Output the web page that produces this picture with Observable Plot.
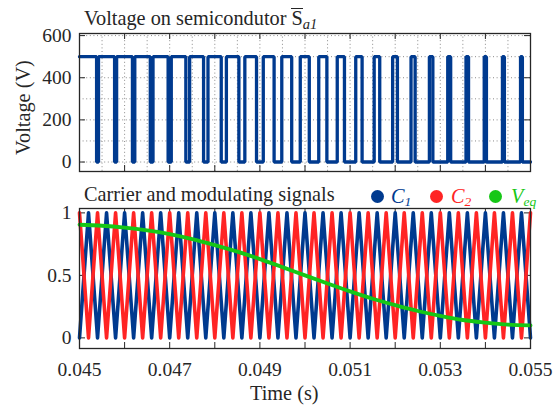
<!DOCTYPE html>
<html><head><meta charset="utf-8">
<script src="https://cdn.jsdelivr.net/npm/d3@7"></script>
<script src="https://cdn.jsdelivr.net/npm/@observablehq/plot@0.6"></script>
<style>
body{margin:0;background:#fff;}
#wrap{position:relative;width:553px;height:406px;font-family:"Liberation Serif","Times New Roman",Times,serif;color:#262626;overflow:hidden;}
#wrap svg{position:absolute;left:0;}
#wrap svg text{font-family:"Liberation Serif","Times New Roman",Times,serif;}
.t{position:absolute;white-space:nowrap;font-size:20.3px;line-height:1;}
.dot{position:absolute;width:13px;height:13px;border-radius:50%;}
</style></head><body><div id="wrap"></div>
<script>
// ---- axis ticks ----
const xTicks = [0.045,0.046,0.047,0.048,0.049,0.050,0.051,0.052,0.053,0.054,0.055];
const xLabelTicks = [0.045,0.047,0.049,0.051,0.053,0.055];
const xGrid = [0.045,0.0455,0.046,0.0465,0.047,0.0475,0.048,0.0485,0.049,0.0495,0.050,0.0505,0.051,0.0515,0.052,0.0525,0.053,0.0535,0.054,0.0545,0.055];
const vTicks = [0,200,400,600];
const vGrid = [0,100,200,300,400,500,600];
const sTicks = [0,0.5,1];

// ---- top panel: switch voltage (low-pulse edges, s) ----
const highLevel = 500, lowLevel = 0;
const lowStart = [0.045379,0.045778,0.046174,0.04657,0.046965,0.047358,0.047751,0.048143,0.048534,0.048925,0.049315,0.049705,0.050095,0.050485,0.050875,0.051266,0.051657,0.052049,0.052442,0.052835,0.05323,0.053626,0.054023,0.054421,0.05482];
const lowEnd   = [0.045421,0.045823,0.046226,0.04663,0.047035,0.047442,0.047849,0.048257,0.048666,0.049075,0.049485,0.049895,0.050305,0.050715,0.051125,0.051534,0.051943,0.052351,0.052758,0.053165,0.05357,0.053974,0.054378,0.054779,0.055];

// ---- bottom panel: carriers (vertex times) and modulating signal ----
const carrierTimes = [0.045,0.0452,0.0454,0.0456,0.0458,0.046,0.0462,0.0464,0.0466,0.0468,0.047,0.0472,0.0474,0.0476,0.0478,0.048,0.0482,0.0484,0.0486,0.0488,0.049,0.0492,0.0494,0.0496,0.0498,0.05,0.0502,0.0504,0.0506,0.0508,0.051,0.0512,0.0514,0.0516,0.0518,0.052,0.0522,0.0524,0.0526,0.0528,0.053,0.0532,0.0534,0.0536,0.0538,0.054,0.0542,0.0544,0.0546,0.0548,0.055];
const c1Values = [0,1,0,1,0,1,0,1,0,1,0,1,0,1,0,1,0,1,0,1,0,1,0,1,0,1,0,1,0,1,0,1,0,1,0,1,0,1,0,1,0,1,0,1,0,1,0,1,0,1,0];
const c2Values = [1,0,1,0,1,0,1,0,1,0,1,0,1,0,1,0,1,0,1,0,1,0,1,0,1,0,1,0,1,0,1,0,1,0,1,0,1,0,1,0,1,0,1,0,1,0,1,0,1,0,1];
const veqTimes = [0.045,0.0455,0.046,0.0465,0.047,0.0475,0.048,0.0485,0.049,0.0495,0.050,0.0505,0.051,0.0515,0.052,0.0525,0.053,0.0535,0.054,0.0545,0.055];
const veqValues = [0.905,0.897,0.882,0.86,0.83,0.79,0.742,0.69,0.63,0.566,0.5,0.435,0.372,0.313,0.262,0.215,0.176,0.143,0.122,0.106,0.1];

const blue = "#003a8f", red = "#ff2424", green = "#16c716", ink = "#262626";

// build step line
const sw = [{t:0.045, v:highLevel}];
lowStart.forEach((s,i) => {
  const e = lowEnd[i];
  sw.push({t:s, v:highLevel},{t:s, v:lowLevel},{t:e, v:lowLevel});
  if (e < 0.055) sw.push({t:e, v:highLevel});
});
const c1 = carrierTimes.map((t,i)=>({t, v:c1Values[i]}));
const c2 = carrierTimes.map((t,i)=>({t, v:c2Values[i]}));
const veq = veqTimes.map((t,i)=>({t, v:veqValues[i]}));

const W = 553, mL = 79, mR = 23, innerW = W - mL - mR;
const FONT = '"Liberation Serif", "Times New Roman", Times, serif';
const style = {fontFamily: FONT, fontSize:"19.5px", color:ink, background:"transparent", overflow:"visible"};
const TK = 6;

// top
const topH = 180, topMT = 33, topMB = 9, topInner = topH - topMT - topMB;
const topPlot = Plot.plot({
  width: W, height: topH, marginTop: topMT, marginBottom: topMB, marginLeft: mL, marginRight: mR,
  style,
  x: {domain:[0.045,0.055]},
  y: {domain:[-45,610]},
  marks: [
    Plot.gridX(xGrid, {stroke:"#8a8a8a", strokeOpacity:1, strokeDasharray:"1,2.6"}),
    Plot.gridY(vGrid, {stroke:"#8a8a8a", strokeOpacity:1, strokeDasharray:"1,2.6"}),
    Plot.axisX({ticks: [], label:null, tickSize:0}),
    Plot.axisY({ticks: vTicks, label:null, tickSize:0, tickPadding:8}),
    Plot.ruleX(xTicks, {stroke:ink, insetTop: topInner - TK}),
    Plot.ruleX(xTicks, {stroke:ink, insetBottom: topInner - TK}),
    Plot.ruleY(vTicks, {stroke:ink, insetRight: innerW - TK}),
    Plot.ruleY(vTicks, {stroke:ink, insetLeft: innerW - TK}),
    Plot.line(sw, {x:"t", y:"v", stroke:blue, strokeWidth:3.3, strokeLinejoin:"miter", curve:"linear"}),
    Plot.frame({stroke:ink, strokeWidth:1.3})
  ]
});
topPlot.style.top = "0px";

// bottom
const botTop = 180, botH = 226, botMT = 28, botMB = 58, botInner = botH - botMT - botMB;
const botPlot = Plot.plot({
  width: W, height: botH, marginTop: botMT, marginBottom: botMB, marginLeft: mL, marginRight: mR,
  style,
  x: {domain:[0.045,0.055]},
  y: {domain:[-0.085,1.035]},
  marks: [
    Plot.axisX({ticks: xLabelTicks, tickFormat: d3.format(".3f"), label:null, tickSize:0, tickPadding:14}),
    Plot.axisY({ticks: sTicks, tickFormat: d => String(d), label:null, tickSize:0, tickPadding:8}),
    Plot.ruleX(xTicks, {stroke:ink, insetTop: botInner - TK}),
    Plot.ruleX(xTicks, {stroke:ink, insetBottom: botInner - TK}),
    Plot.ruleY(sTicks, {stroke:ink, insetRight: innerW - TK}),
    Plot.ruleY(sTicks, {stroke:ink, insetLeft: innerW - TK}),
    Plot.line(c1, {x:"t", y:"v", stroke:blue, strokeWidth:3.6}),
    Plot.line(c2, {x:"t", y:"v", stroke:red, strokeWidth:3.6}),
    Plot.line(veq, {x:"t", y:"v", stroke:green, strokeWidth:3.8, curve:"monotone-x"}),
    Plot.frame({stroke:ink, strokeWidth:1.3})
  ]
});
botPlot.style.top = botTop + "px";

const wrap = document.getElementById("wrap");
wrap.appendChild(topPlot);
wrap.appendChild(botPlot);

function addText(html, left, topPx, extra) {
  const d = document.createElement("div");
  d.className = "t";
  d.innerHTML = html;
  d.style.left = left + "px";
  d.style.top = topPx + "px";
  if (extra) Object.assign(d.style, extra);
  wrap.appendChild(d);
  return d;
}
function addDot(color, cx, cy) {
  const d = document.createElement("div");
  d.className = "dot";
  d.style.background = color;
  d.style.left = (cx - 6.5) + "px";
  d.style.top = (cy - 6.5) + "px";
  wrap.appendChild(d);
}
const SUB = 'font-style:italic;font-size:13.5px;vertical-align:-3px;line-height:1';
addText('Voltage on semicondutor <span style="display:inline-block;border-top:1.6px solid #262626;padding-top:1px;line-height:0.8">S</span><span style="font-style:italic;font-size:14.5px;vertical-align:-4px">a1</span>', 84, 8);
addText('Carrier and modulating signals', 84, 184);
addText('Time (s)', 250, 383);
addText('Voltage (V)', 0, 0, {transform:"translate(13px,155px) rotate(-90deg)", transformOrigin:"0 0"});
addDot(blue, 377, 196);
addText('<i>C</i><span style="' + SUB + '">1</span>', 391, 186, {color:blue});
addDot(red, 436, 196);
addText('<i>C</i><span style="' + SUB + '">2</span>', 451, 186, {color:red});
addDot(green, 495, 196);
addText('<i>V</i><span style="' + SUB + '">eq</span>', 511, 186, {color:green});
</script>
</body></html>
